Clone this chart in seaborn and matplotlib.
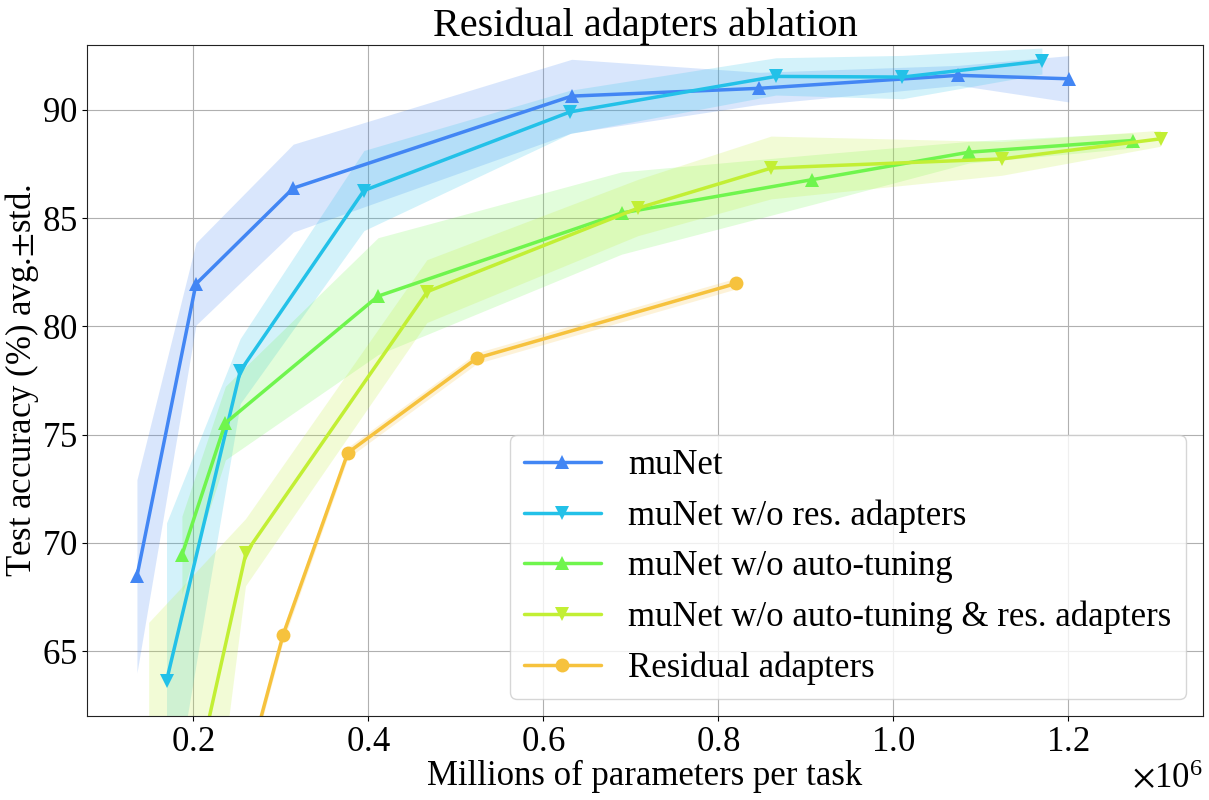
import numpy as np
import matplotlib
matplotlib.use("Agg")
import matplotlib.pyplot as plt
import seaborn as sns

# parameters per task (millions) and test accuracy (avg / std)
munet_x = [0.136, 0.2034, 0.3146, 0.6327, 0.847, 1.0746, 1.2007]
munet_y = [68.45, 81.95, 86.38, 90.63, 90.99, 91.59, 91.43]
munet_sd = [4.46, 1.9, 2.03, 1.7, 0.74, 0.46, 1.07]

nores_x = [0.1698, 0.254, 0.3954, 0.6308, 0.866, 1.0106, 1.17]
nores_y = [63.62, 77.93, 86.27, 89.9, 91.54, 91.51, 92.25]
nores_sd = [7.3, 1.5, 1.85, 1.0, 0.86, 1.0, 0.6]

noauto_x = [0.1874, 0.2371, 0.4115, 0.6897, 0.9072, 1.0866, 1.2736]
noauto_y = [69.43, 75.53, 81.39, 85.23, 86.77, 88.04, 88.58]
noauto_sd = [1.8, 1.7, 2.7, 1.9, 1.15, 0.5, 0.35]

noboth_x = [0.15, 0.2606, 0.4678, 0.7088, 0.861, 1.1246, 1.306]
noboth_y = [49.5, 69.54, 81.6, 85.46, 87.31, 87.73, 88.66]
noboth_sd = [16.8, 1.55, 1.45, 1.3, 1.45, 0.78, 0.37]

resad_x = [0.245, 0.3031, 0.377, 0.5245, 0.821]
resad_y = [57.0, 65.76, 74.16, 78.53, 81.98]
resad_sd = [0.3, 0.3, 0.25, 0.25, 0.25]

series = [
    ("muNet", munet_x, munet_y, munet_sd, "#4286f4", "^"),
    ("muNet w/o res. adapters", nores_x, nores_y, nores_sd, "#23c1e8", "v"),
    ("muNet w/o auto-tuning", noauto_x, noauto_y, noauto_sd, "#6ff54d", "^"),
    ("muNet w/o auto-tuning & res. adapters", noboth_x, noboth_y, noboth_sd, "#c2ef34", "v"),
    ("Residual adapters", resad_x, resad_y, resad_sd, "#f6c23d", "o"),
]

sns.set_style("ticks")
plt.rcParams["font.family"] = ["Liberation Serif", "DejaVu Serif"]
plt.rcParams["mathtext.fontset"] = "stix"
plt.rcParams["axes.formatter.use_mathtext"] = True
plt.rcParams["font.size"] = 25
for k in ["text.color", "axes.labelcolor", "xtick.color", "ytick.color"]:
    plt.rcParams[k] = "black"

fig = plt.figure(figsize=(12.09, 8.0), dpi=100)
ax = fig.add_axes([0.072, 0.105, 0.923, 0.839])

for name, xs, ys, sd, col, mk in series:
    xs = np.array(xs) * 1e6
    ys = np.array(ys)
    sd = np.array(sd)
    ax.fill_between(xs, ys - sd, ys + sd, color=col, alpha=0.2, linewidth=0)
    sns.lineplot(x=xs, y=ys, ax=ax, color=col, marker=mk, markersize=10,
                 linewidth=2.5, markeredgecolor=col, markeredgewidth=0,
                 label=name, sort=False, errorbar=None)

ax.set_xlim(0.079e6, 1.354e6)
ax.set_ylim(62, 93)
ax.set_yticks([65, 70, 75, 80, 85, 90])
ax.grid(True, color="#b0b0b0", linewidth=0.8)
for s in ax.spines.values():
    s.set_visible(True)
    s.set_color("#222222")

ax.tick_params(labelsize=25)
ax.set_title("Residual adapters ablation", fontsize=29, pad=6.5)
ax.set_xlabel("Millions of parameters per task", fontsize=25, labelpad=1)
ax.set_ylabel("Test accuracy (%) avg.$\\pm$std.", fontsize=25, labelpad=0.5)
ax.xaxis.get_offset_text().set_fontsize(25)

ax.legend(loc="lower right", fontsize=25, handlelength=2.2)

fig.savefig("out.png", dpi=100)
